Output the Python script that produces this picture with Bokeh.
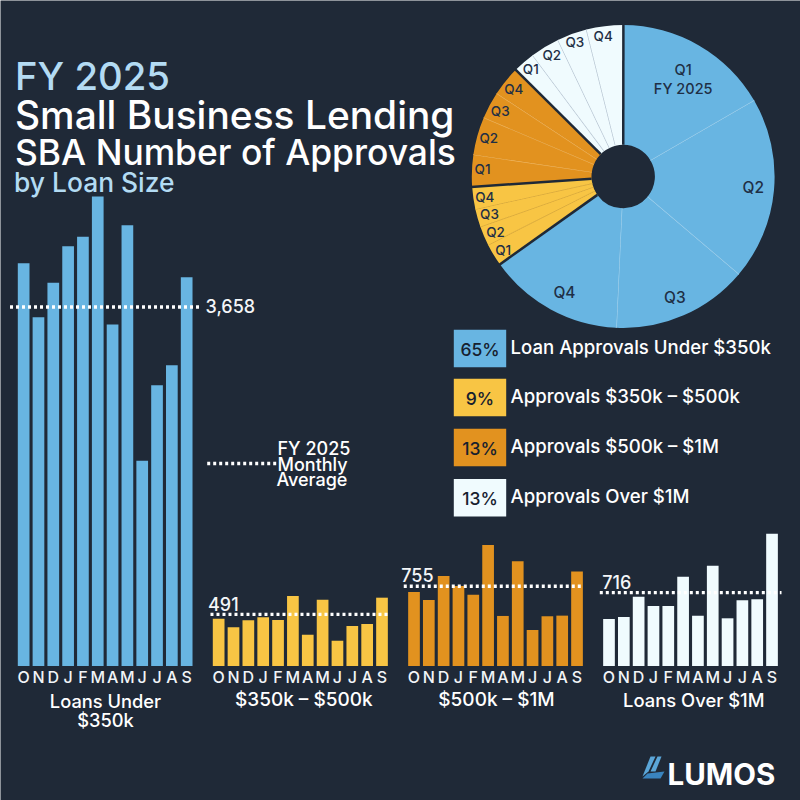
import math
from bokeh.plotting import figure
from bokeh.embed import file_html
from bokeh.resources import INLINE
from bokeh.models import Range1d, LinearAxis, FixedTicker
from bokeh.core.properties import value

# ---------- data ----------
months = ["O", "N", "D", "J", "F", "M", "A", "M", "J", "J", "A", "S"]
under_350k = [4105, 3554, 3905, 4278, 4374, 4784, 3480, 4492, 2091, 2861, 3065, 3962]
from_350k_500k = [449, 368, 434, 463, 437, 665, 297, 630, 240, 380, 399, 649]
from_500k_1m = [701, 625, 852, 758, 675, 1146, 474, 991, 341, 471, 477, 894]
over_1m = [459, 479, 677, 586, 586, 872, 491, 980, 466, 642, 652, 1293]
monthly_averages = [3658, 491, 755, 716]
average_labels = ["3,658", "491", "755", "716"]

quarters = ["Q1", "Q2", "Q3", "Q4"]
share_under_350k = [16.67, 19.53, 14.53, 14.42]
share_350k_500k = [2.39, 2.08, 1.92, 2.36]
share_500k_1m = [3.42, 4.06, 2.89, 3.17]
share_over_1m = [2.36, 3.11, 3.19, 3.92]

legend_pcts = ["65%", "9%", "13%", "13%"]
legend_names = ["Loan Approvals Under $350k", "Approvals $350k \u2013 $500k",
                "Approvals $500k \u2013 $1M", "Approvals Over $1M"]

# ---------- style / layout ----------
BG = "#1f2937"
BLUE, YELLOW, ORANGE, ICE = "#68b5e2", "#f8c544", "#e2921f", "#f0fbfe"
TITLE_BLUE = "#b3dbf3"
WHITE = "#ffffff"
FONT = "Inter Medium, Inter"
PAGE_MIN, PAGE_MAX = 0, 800
BASE = 665.5

p = figure(width=800, height=800, output_backend="svg", toolbar_location=None,
           x_range=Range1d(PAGE_MIN, PAGE_MAX), y_range=Range1d(PAGE_MIN, PAGE_MAX),
           min_border=0, min_border_left=0, min_border_right=0, min_border_top=0,
           min_border_bottom=0, background_fill_color=BG, border_fill_color=BG,
           outline_line_color=None, x_axis_type=None, y_axis_type=None)
p.grid.visible = False


def Y(py):
    return 800 - py


def txt(x, y, t, size, color=WHITE, align="left", baseline="middle", style="normal", font=FONT):
    p.text(x=[x], y=[Y(y)], text=[t], text_font=value(font), text_font_size=f"{size}px",
           text_color=color, text_align=align, text_baseline=baseline, text_font_style=style)


# ---------- title ----------
txt(14.5, 75.7, "FY 2025", 38.3, TITLE_BLUE, baseline="alphabetic")
txt(14.5, 114, "Small Business Lending", 38.9, baseline="alphabetic")
txt(14.5, 151.7, "SBA Number of Approvals", 35.4, baseline="alphabetic")
txt(13.5, 181.7, "by Loan Size", 26.4, TITLE_BLUE, baseline="alphabetic")

# ---------- bar panels ----------
panels = [
    ("big", under_350k, BLUE, 23.15, 14.82, 10.19, -0.92, 11.87),
    ("yel", from_350k_500k, YELLOW, 218.15, 14.85, 9.5, -0.55, 11.53),
    ("ora", from_500k_1m, ORANGE, 413.5, 14.82, 9.47, -0.69, 11.35),
    ("ice", over_1m, ICE, 608.5, 14.82, 9.77, -0.62, 11.64),
]
for (name, vals, col, c0, pitch, scale, lx0, lx1), avg in zip(panels, monthly_averages):
    p.extra_x_ranges[name] = Range1d((PAGE_MIN - c0) / pitch, (PAGE_MAX - c0) / pitch)
    p.extra_y_ranges[name] = Range1d(-(PAGE_MAX - BASE) * scale, (BASE - PAGE_MIN) * scale)
    idx = list(range(len(vals)))
    p.vbar(x=idx, top=vals, bottom=0, width=11.7 / pitch, fill_color=col, line_color=None,
           x_range_name=name, y_range_name=name)
    ax = LinearAxis(x_range_name=name, y_range_name=name, fixed_location=0,
                    ticker=FixedTicker(ticks=idx),
                    major_label_overrides={i: m for i, m in enumerate(months)},
                    axis_line_color=None, major_tick_line_color=None,
                    minor_tick_line_color=None, major_label_standoff=-5,
                    major_label_text_color="#f2f5f8", major_label_text_font=FONT,
                    major_label_text_font_size="16px")
    p.add_layout(ax, "below")
    p.line(x=[lx0, lx1], y=[avg, avg], line_color=WHITE, line_width=3.3, line_dash=[3, 3],
           x_range_name=name, y_range_name=name)

# average value labels
avg_label_pos = [(205, 305.5), (207.5, 603), (400.7, 574.5), (601.7, 581)]
for (x, y), t in zip(avg_label_pos, average_labels):
    txt(x, y, t, 18, "#f4f6f8")

# "FY 2025 Monthly Average" key
p.line(x=[206.7, 276.7], y=[Y(463), Y(463)], line_color=WHITE, line_width=3.3, line_dash=[3, 3])
txt(277, 448, "FY 2025", 18)
txt(277, 464, "Monthly", 18)
txt(276, 479, "Average", 18)

# panel captions
txt(105, 700, "Loans Under", 18.3, align="center")
txt(105, 719, "$350k", 18.3, align="center")
txt(303.3, 699, "$350k \u2013 $500k", 19, align="center")
txt(496, 699, "$500k \u2013 $1M", 19, align="center")
txt(693.3, 699, "Loans Over $1M", 18.4, align="center")

# ---------- pie ----------
CX, CY, R0, R1 = 622.7, 176, 31.7, 151.4
groups = [(share_under_350k, BLUE, "#a9d6f0"), (share_350k_500k, YELLOW, "#d8a93e"),
          (share_500k_1m, ORANGE, "#f0b762"), (share_over_1m, ICE, "#b6c4d2")]
cum = 0.0
thick = []
for shares, col, sub in groups:
    for i, s in enumerate(shares):
        a0, a1 = cum * 3.6, (cum + s) * 3.6
        p.annular_wedge(x=[CX], y=[Y(CY)], inner_radius=R0, outer_radius=R1,
                        start_angle=math.radians(90 - a1), end_angle=math.radians(90 - a0),
                        fill_color=col, line_color=None)
        cum += s
        if i < len(shares) - 1:
            t = math.radians(90 - a1)
            p.segment(x0=[CX + R0 * math.cos(t)], y0=[Y(CY) + R0 * math.sin(t)],
                      x1=[CX + R1 * math.cos(t)], y1=[Y(CY) + R1 * math.sin(t)],
                      line_color=sub, line_width=1.2)
    thick.append(math.radians(90 - cum * 3.6))
for t in thick:
    p.segment(x0=[CX + R0 * math.cos(t)], y0=[Y(CY) + R0 * math.sin(t)],
              x1=[CX + (R1 + 1) * math.cos(t)], y1=[Y(CY) + (R1 + 1) * math.sin(t)],
              line_color=BG, line_width=2.5)

INK = "#1f2f45"
txt(682.7, 69.3, quarters[0], 14.5, INK, "center")
txt(682.7, 88, "FY 2025", 14.5, INK, "center")
for (x, y), q in zip([(752.7, 186.7), (674.3, 296.7), (564, 292)], quarters[1:]):
    txt(x, y, q, 15.5, INK, "center")
for pos in ([(502.7, 249), (495, 231), (489, 213.3), (484.3, 196)],
            [(482, 168.7), (488.3, 137.3), (499.7, 110), (513.3, 88.3)],
            [(530.3, 68.7), (551.3, 54.7), (574.3, 41.7), (602.7, 35.3)]):
    for (x, y), q in zip(pos, quarters):
        txt(x, y, q, 13.5, INK, "center")

# ---------- legend ----------
rows = [348, 397, 447, 497.3]
for y, col, pct, name in zip(rows, [BLUE, YELLOW, ORANGE, ICE], legend_pcts, legend_names):
    p.rect(x=[479.5], y=[Y(y)], width=52.4, height=37.4, fill_color=col, line_color=None)
    txt(479.5, y + 0.5, pct, 17.5, "#16202e", "center")
    txt(510, y - 2, name, 18.6)

# ---------- logo ----------
p.patch([642, 650, 655, 648], [Y(776), Y(756), Y(756), Y(771)], fill_color="#5ba6d8", line_color=None)
p.patch([650, 657, 661, 655], [Y(771), Y(756), Y(756), Y(771)], fill_color="#5ba6d8", line_color=None)
p.patch([642, 660, 664, 647], [Y(778), Y(778), Y(771), Y(773)], fill_color="#3a84bf", line_color=None)
txt(667, 773.5, "LUMOS", 29.5, WHITE, baseline="alphabetic", style="bold", font="Inter")

open("out.html", "w").write(file_html(p, INLINE))
